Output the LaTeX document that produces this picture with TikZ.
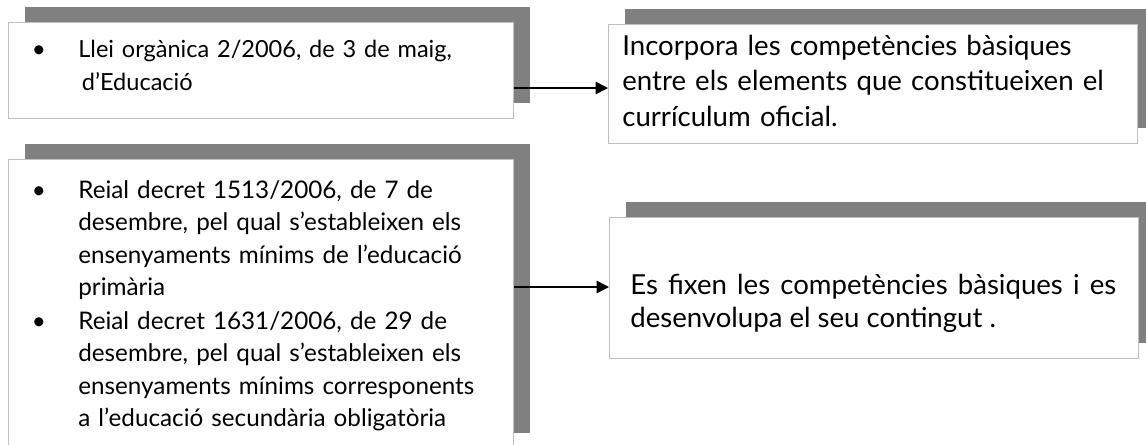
\documentclass[tikz,border=0pt]{standalone}
\usepackage{fontspec}
\setmainfont{Lato}
\usetikzlibrary{shadows,arrows.meta}

\definecolor{shadowgray}{RGB}{128,128,128}
\definecolor{edgegray}{RGB}{192,192,192}

\tikzset{
  lawbox/.style={draw=edgegray, line width=0.8pt, fill=white, inner sep=0pt, anchor=north west,
    general shadow={fill=shadowgray, shadow xshift=0.32cm, shadow yshift=0.32cm}},
  lefttext/.style={anchor=base west, inner sep=0pt, align=left, text width=8.8cm,
    font=\fontsize{13.8}{18.5}\selectfont},
  righttext/.style={anchor=base west, inner sep=0pt, text width=9.72cm,
    font=\fontsize{15.7}{19.3}\selectfont},
  dot/.style={anchor=base, inner sep=0pt, font=\fontsize{13.8}{17.7}\selectfont},
  conn/.style={-{Triangle[length=7pt,width=7pt]}, line width=0.9pt}
}

\begin{document}
\begin{tikzpicture}[x=0.02cm,y=-0.02cm]
        % Page size
        \useasboundingbox (0,0) rectangle (1146,444);

        % Left boxes (laws)
        \node[lawbox, minimum width=10.1cm, minimum height=1.92cm] (llei) at (8,22) {};
        \node[lawbox, minimum width=10.1cm, minimum height=5.78cm] (decrets) at (8,159) {};

        % Right boxes
        \node[lawbox, minimum width=10.58cm, minimum height=2.38cm] (incorpora) at (608,24) {};
        \node[lawbox, minimum width=10.58cm, minimum height=2.82cm] (fixen) at (609,217) {};

        % Bullets
        \node[dot] (b1) at (39,57) {•};
        \node[dot] (b2) at (39,198) {•};
        \node[dot] (b3) at (39,329) {•};

        % Texts
        \node[lefttext, font=\fontsize{13.4}{19.3}\selectfont] (tllei) at (78,57)
          {Llei orgànica 2/2006, de 3 de maig,\\ \hspace{2pt}d’Educació};
        \node[lefttext] (tdecret1) at (78,198)
          {Reial decret 1513/2006, de 7 de\\ desembre, pel qual s’estableixen els\\ ensenyaments mínims de l’educació\\ primària};
        \node[lefttext] (tdecret2) at (78,329)
          {Reial decret 1631/2006, de 29 de\\ desembre, pel qual s’estableixen els\\ ensenyaments mínims corresponents\\ a l’educació secundària obligatòria};
        \node[righttext, align=left, font=\fontsize{15.7}{20.4}\selectfont] (tincorpora) at (622,55)
          {Incorpora les competències bàsiques\\ entre els elements que constitueixen el\\ currículum oficial.};
        \node[righttext, align=justify] (tfixen) at (630,294)
          {Es fixen les competències bàsiques i es\linebreak desenvolupa el seu contingut .};

        % Connectors
        \draw[conn] (llei.east |- 0,88) -- (incorpora.west |- 0,88);
        \draw[conn] (decrets.east |- 0,287) -- (fixen.west |- 0,287);
\end{tikzpicture}
\end{document}
